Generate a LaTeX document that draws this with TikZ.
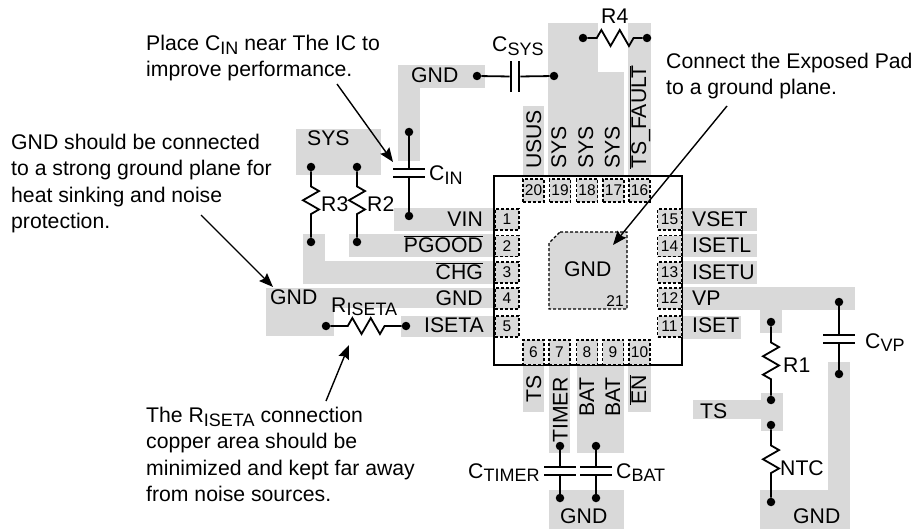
\documentclass[tikz,border=0pt]{standalone}
\usepackage{fontspec}
\setmainfont{Liberation Sans}
\usetikzlibrary{arrows.meta, decorations.pathmorphing}

\newcommand{\lowtxt}[1]{\raisebox{-3.5pt}{\fontsize{18}{18}\selectfont #1}}
\newcommand{\barred}[1]{$\overline{\mbox{#1}}$}

\begin{document}
\begin{tikzpicture}[x=1pt, y=-1pt, font=\fontsize{21.2}{26.3}\selectfont]

\tikzstyle{plane}=[fill=black!15, draw=none];
\tikzstyle{pad}=[draw, dash pattern=on 3pt off 2pt, fill=black!15, line width=1.2pt, inner sep=0pt, font=\fontsize{15.5}{15.5}\selectfont];
\tikzstyle{padh}=[pad, minimum width=24pt, minimum height=21pt];
\tikzstyle{padt}=[pad, minimum width=21pt, minimum height=23pt];
\tikzstyle{padb}=[pad, minimum width=21pt, minimum height=25pt];
\tikzstyle{dot}=[fill, circle, inner sep=0pt, minimum size=8.5pt];
\tikzstyle{wire}=[line width=1.8pt];
\tikzstyle{hplate}=[fill, inner sep=0pt, minimum width=32pt, minimum height=2.3pt];
\tikzstyle{vplate}=[fill, inner sep=0pt, minimum width=2.3pt, minimum height=31pt];
\tikzstyle{res}=[line width=1.8pt, decorate, decoration={zigzag, amplitude=8pt, segment length=18.4pt, pre=lineto, post=lineto, pre length=#1, post length=#1}];
\tikzstyle{note}=[anchor=north west, inner sep=0pt, align=left];
\tikzstyle{lbl}=[anchor=base west, inner sep=0pt];
\tikzstyle{pinl}=[anchor=base east, inner sep=0pt];
\tikzstyle{pinup}=[anchor=base west, inner sep=0pt, rotate=90];
\tikzstyle{call}=[-{Stealth[length=14pt, width=11pt, inset=2pt]}, line width=1.4pt];

\useasboundingbox (0, 0) rectangle (917, 529);

% copper
\fill[plane] (398, 65) rectangle (485, 88);
\fill[plane] (398, 65) rectangle (420, 161);
\fill[plane] (296, 129) rectangle (381, 175);
\fill[plane] (394, 208) rectangle (494, 231);
\fill[plane] (349, 234) rectangle (494, 257);
\fill[plane] (303, 234) rectangle (325, 284);
\fill[plane] (303, 261) rectangle (494, 284);
\fill[plane] (266, 288) rectangle (494, 308);
\fill[plane] (266, 288) rectangle (334, 336);
\fill[plane] (401, 316) rectangle (494, 337);
\fill[plane] (523, 106) rectangle (544, 176);
\fill[plane] (548, 23) rectangle (598, 176);
\fill[plane] (598, 72) rectangle (624, 176);
\fill[plane] (628, 23) rectangle (651, 176);
\fill[plane] (682, 208) rectangle (757, 231);
\fill[plane] (682, 234) rectangle (757, 257);
\fill[plane] (682, 261) rectangle (757, 284);
\fill[plane] (682, 287) rectangle (855, 310);
\fill[plane] (760, 310) rectangle (782, 333);
\fill[plane] (682, 316) rectangle (741, 339);
\fill[plane] (693, 400) rectangle (783, 419);
\fill[plane] (761, 393) rectangle (783, 431);
\fill[plane] (760, 490) rectangle (850, 529);
\fill[plane] (828, 362) rectangle (850, 490);
\fill[plane] (523, 365) rectangle (544, 412);
\fill[plane] (549, 365) rectangle (570, 453);
\fill[plane] (577, 365) rectangle (624, 453);
\fill[plane] (628, 365) rectangle (651, 412);
\fill[plane] (549, 490) rectangle (624, 529);

% package
\node[draw, line width=1.4pt, minimum width=188pt, minimum height=189pt, inner sep=0pt] (chip) at (588, 270.5) {};
\draw[dash pattern=on 3pt off 2pt, fill=black!15, line width=1.2pt] (560, 232) -- (627, 232) -- (627, 309) -- (549, 309) -- (549, 243) -- cycle;

\node[padh] (p1) at (507, 219.5) {1};
\node[padh] (p2) at (507, 246) {2};
\node[padh] (p3) at (507, 272.5) {3};
\node[padh] (p4) at (507, 298.5) {4};
\node[padh] (p5) at (507, 326.5) {5};
\node[padb] (p6) at (533.5, 352.5) {6};
\node[padb] (p7) at (559.5, 352.5) {7};
\node[padb] (p8) at (587, 352.5) {8};
\node[padb] (p9) at (613, 352.5) {9};
\node[padb] (p10) at (639.5, 352.5) {10};
\node[padh] (p11) at (669.5, 326.5) {11};
\node[padh] (p12) at (669.5, 298.5) {12};
\node[padh] (p13) at (669.5, 272.5) {13};
\node[padh] (p14) at (669.5, 246) {14};
\node[padh] (p15) at (669.5, 219.5) {15};
\node[padt] (p16) at (639.5, 190.5) {16};
\node[padt] (p17) at (613.5, 190.5) {17};
\node[padt] (p18) at (587, 190.5) {18};
\node[padt] (p19) at (560, 190.5) {19};
\node[padt] (p20) at (533.5, 190.5) {20};
\node (p21) at (615, 301) [font=\fontsize{15.5}{15.5}\selectfont, inner sep=0pt] {21};

% pin names
\node[pinl] (vin) at (483, 226) {VIN};
\node[pinl] (pgood) at (483, 252) {\barred{PGOOD}};
\node[pinl] (chg) at (483, 279) {\barred{CHG}};
\node[pinl] (gnd4) at (483, 305) {GND};
\node[pinl] (iseta) at (484, 332) {ISETA};
\node[lbl] (vset) at (692, 226) {VSET};
\node[lbl] (isetl) at (692, 252) {ISETL};
\node[lbl] (isetu) at (692, 279) {ISETU};
\node[lbl] (vp) at (692, 305) {VP};
\node[lbl] (iset) at (692, 332) {ISET};
\node[lbl] (gndpad) at (564, 276) {GND};
\node[pinup] (usus) at (541, 169) {USUS};
\node[pinup] (sys19) at (566, 169) {SYS};
\node[pinup] (sys18) at (593, 169) {SYS};
\node[pinup] (sys17) at (619.5, 169) {SYS};
\node[pinup] (tsfault) at (646, 169) {\barred{TS\_FAULT}};
\node[pinup] (ts6) at (541, 403) {TS};
\node[pinup] (timer) at (567.5, 443) {TIMER};
\node[pinup] (bat8) at (594, 417) {BAT};
\node[pinup] (bat9) at (620, 417) {BAT};
\node[pinup] (en) at (646, 405) {\barred{EN}};

% nets
\node[lbl] (sys) at (307, 146) {SYS};
\node[lbl] (gndtop) at (411, 83) {GND};
\node[lbl] (gndleft) at (270, 304) {GND};
\node[lbl] (ts) at (700, 418) {TS};
\node[lbl] (gndbot) at (560, 523) {GND};
\node[lbl] (gndright) at (793, 523) {GND};

% parts
\node[dot] (csysa) at (477, 76) {};
\node[dot] (csysb) at (554, 76) {};
\node[vplate] (csysl) at (511, 76.5) {};
\node[vplate] (csysr) at (519, 76.5) {};
\draw[wire] (csysa) -- (csysl);
\draw[wire] (csysr) -- (csysb);
\node[lbl] (csyslbl) at (492, 52) {C\lowtxt{SYS}};

\node[dot] (cina) at (409, 132) {};
\node[dot] (cinb) at (409, 216) {};
\node[hplate] (cint) at (409, 169) {};
\node[hplate] (cinm) at (409, 177) {};
\draw[wire] (cina) -- (cint);
\draw[wire] (cinm) -- (cinb);
\node[lbl] (cinlbl) at (429, 181) {C\lowtxt{IN}};

\node[dot] (r3a) at (311, 167) {};
\node[dot] (r3b) at (311, 242) {};
\draw[res=15pt] (r3a) -- (r3b);
\node[lbl] (r3lbl) at (321, 212) {R3};
\node[dot] (r2a) at (357, 167) {};
\node[dot] (r2b) at (357, 242) {};
\draw[res=15pt] (r2a) -- (r2b);
\node[lbl] (r2lbl) at (367, 212) {R2};

\node[dot] (r4a) at (583, 38) {};
\node[dot] (r4b) at (647, 38) {};
\draw[res=9pt] (r4b) -- (r4a);
\node[lbl] (r4lbl) at (601, 24) {R4};

\node[dot] (risa) at (326, 326) {};
\node[dot] (risb) at (406, 326) {};
\draw[res=17pt] (risb) -- (risa);
\node[lbl] (rislbl) at (331, 312) {R\lowtxt{ISETA}};

\node[dot] (r1a) at (771, 322) {};
\node[dot] (r1b) at (771, 400) {};
\draw[res=16pt] (r1a) -- (r1b);
\node[lbl] (r1lbl) at (783, 372) {R1};
\node[dot] (ntca) at (771, 425) {};
\node[dot] (ntcb) at (771, 502) {};
\draw[res=16pt] (ntca) -- (ntcb);
\node[lbl] (ntclbl) at (780, 475) {NTC};

\node[dot] (cvpa) at (839, 302) {};
\node[dot] (cvpb) at (839, 374) {};
\node[hplate] (cvpt) at (839, 335) {};
\node[hplate] (cvpm) at (839, 343) {};
\draw[wire] (cvpa) -- (cvpt);
\draw[wire] (cvpm) -- (cvpb);
\node[lbl] (cvplbl) at (865, 348) {C\lowtxt{VP}};

\node[dot] (ctima) at (560, 446) {};
\node[dot] (ctimb) at (560, 498) {};
\node[hplate] (ctimt) at (560, 467) {};
\node[hplate] (ctimm) at (560, 475) {};
\draw[wire] (ctima) -- (ctimt);
\draw[wire] (ctimm) -- (ctimb);
\node[lbl] (ctimlbl) at (468, 478) {C\lowtxt{TIMER}};

\node[dot] (cbata) at (596, 446) {};
\node[dot] (cbatb) at (596, 498) {};
\node[hplate] (cbatt) at (596, 467) {};
\node[hplate] (cbatm) at (596, 475) {};
\draw[wire] (cbata) -- (cbatt);
\draw[wire] (cbatm) -- (cbatb);
\node[lbl] (cbatlbl) at (616, 478) {C\lowtxt{BAT}};

% notes
\node[note] (notecin) at (146, 35) {Place C\lowtxt{IN} near The IC to\\improve performance.};
\node[note] (notegnd) at (11, 134) {GND should be connected\\to a strong ground plane for\\heat sinking and noise\\protection.};
\node[note] (notepad) at (666, 53) {Connect the Exposed Pad\\to a ground plane.};
\node[note] (noteris) at (146, 407) {The R\lowtxt{ISETA} connection\\copper area should be\\minimized and kept far away\\from noise sources.};

\coordinate (acina) at (337, 84);
\coordinate (acinb) at (393, 162);
\coordinate (agnda) at (201, 215);
\coordinate (agndb) at (273, 287);
\coordinate (apada) at (727, 106);
\coordinate (apadb) at (613, 245);
\coordinate (arisa) at (326, 401);
\coordinate (arisb) at (349, 345);
\draw[call] (acina) -- (acinb);
\draw[call] (agnda) -- (agndb);
\draw[call] (apada) -- (apadb);
\draw[call] (arisa) -- (arisb);

\end{tikzpicture}
\end{document}
